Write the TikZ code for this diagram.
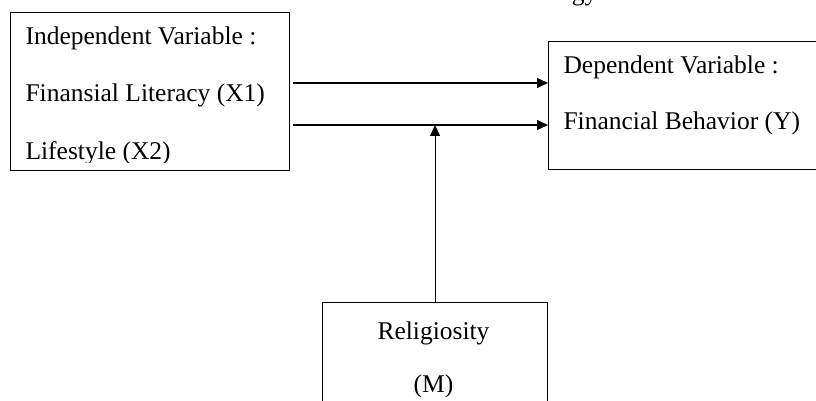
\documentclass[tikz,border=0pt]{standalone}
\usepackage{fontspec}
\setmainfont{Liberation Serif}
\usetikzlibrary{arrows.meta}

\tikzset{
  varbox/.style={draw, line width=1.1pt, rectangle, anchor=north west, inner sep=0pt},
  vartext/.style={anchor=base west, inner sep=0pt, font=\fontsize{25.5}{30}\selectfont},
  midtext/.style={anchor=base, inner sep=0pt, font=\fontsize{25.5}{30}\selectfont},
}

\begin{document}
\begin{tikzpicture}[x=1pt, y=-1pt, >={Triangle[length=11pt,width=10pt]}, line width=1.1pt]
  \useasboundingbox (0,0) rectangle (816,401);
  \clip (0,0) rectangle (816,401);
  % boxes
  \node[varbox, minimum width=279pt, minimum height=158pt] (indep) at (10,12) {};
  \node[varbox, minimum width=300pt, minimum height=128pt] (dep) at (548,41) {};
  \node[varbox, minimum width=225pt, minimum height=130pt] (relig) at (322,302) {};
  % texts
  \node[vartext] (t1) at (25,45) {Independent Variable :};
  \node[vartext] (t2) at (25,102) {Finansial Literacy (X1)};
  \begin{scope}
    \clip (10,12) rectangle (289,162);
    \node[vartext] (t3) at (25,159.5) {Lifestyle (X2)};
  \end{scope}
  \node[vartext] (t4) at (563,74) {Dependent Variable :};
  \node[vartext] (t5) at (563,130) {Financial Behavior (Y)};
  \node[midtext] (t6) at (433.5,339) {Religiosity};
  \node[midtext] (t7) at (433.5,392) {(M)};
  \node[anchor=base east, inner sep=0pt, font=\fontsize{25.5}{30}\selectfont] (top) at (598,1) {gy};
  % arrows
  \coordinate (a1) at (293,83);
  \coordinate (a2) at (293,125);
  \draw[->] (a1) -- (dep.west |- a1);
  \draw[->] (a2) -- (dep.west |- a2);
  \draw[->] (relig.north) -- (relig.north |- a2);
\end{tikzpicture}
\end{document}
